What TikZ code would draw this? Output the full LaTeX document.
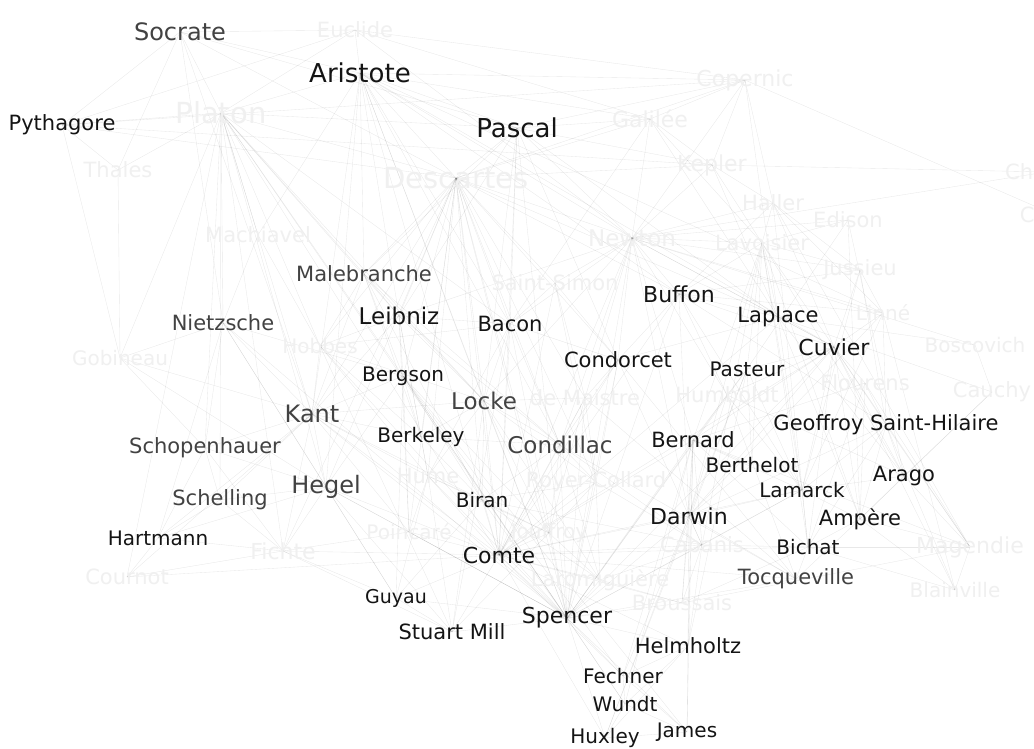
\documentclass[tikz,border=0pt]{standalone}
\usepackage{fontspec}
\setmainfont{DejaVu Sans}
\pgfdeclarelayer{bg}
\pgfsetlayers{bg,main}
\tikzset{
  lab/.style={inner sep=0pt, font=\fontsize{#1}{#1}\selectfont},
  lab/.default=22,
  fd/.style={text=black!6},
  gr/.style={text=black!74},
  dk/.style={text=black!92},
  edge/.style={draw=black, draw opacity=0.09, line width=0.35pt}
}
\begin{document}
\begin{tikzpicture}[x=1pt,y=-1pt]
\useasboundingbox (0,0) rectangle (1034,749);
% labels / nodes
\node[lab=24,gr] (soc) at (180,32) {Socrate};
\node[lab=21,fd] (euc) at (355,30) {Euclide};
\node[lab=26,dk] (ari) at (360,73) {Aristote};
\node[lab=21,dk] (pyt) at (62,125) {Pythagore};
\node[lab=29,fd] (pla) at (221,113) {Platon};
\node[lab=26,dk] (pas) at (517,128) {Pascal};
\node[lab=21,fd] (tha) at (118,170) {Thales};
\node[lab=29,fd] (des) at (456,178) {Descartes};
\node[lab=22,fd] (cop) at (745,80) {Copernic};
\node[lab=22,fd] (gal) at (650,119) {Galilée};
\node[lab=22,fd] (kep) at (712,165) {Kepler};
\node[lab=21,fd] (hal) at (773,203) {Haller};
\node[lab=21,fd] (edi) at (848,220) {Edison};
\node[lab=21,fd] (cha) at (1046,172) {Charcot};
\node[lab=21,fd] (car) at (1055,215) {Carnot};
\node[lab=21,fd] (mac) at (258,235) {Machiavel};
\node[lab=23,fd] (new) at (632,238) {Newton};
\node[lab=21,fd] (lav) at (762,243) {Lavoisier};
\node[lab=21,fd] (jus) at (860,270) {Jussieu};
\node[lab=21,gr] (mal) at (364,274) {Malebranche};
\node[lab=21,fd] (sai) at (555,283) {Saint-Simon};
\node[lab=22,dk] (buf) at (679,294) {Buffon};
\node[lab=20,fd] (lin) at (883,313) {Linné};
\node[lab=21,gr] (nie) at (223,323) {Nietzsche};
\node[lab=23,dk] (lei) at (399,316) {Leibniz};
\node[lab=21,dk] (bac) at (510,324) {Bacon};
\node[lab=21,dk] (lap) at (778,317) {Laplace};
\node[lab=20,fd] (hob) at (320,346) {Hobbes};
\node[lab=20,fd] (gob) at (120,358) {Gobineau};
\node[lab=21,dk] (cdt) at (618,360) {Condorcet};
\node[lab=22,dk] (cuv) at (834,347) {Cuvier};
\node[lab=20,dk] (pst) at (747,369) {Pasteur};
\node[lab=20,fd] (bos) at (975,345) {Boscovich};
\node[lab=20,dk] (ber) at (403,376) {Bergson};
\node[lab=21,fd] (flo) at (865,383) {Flourens};
\node[lab=21,fd] (hum) at (727,395) {Humboldt};
\node[lab=21,fd] (cau) at (992,392) {Cauchy};
\node[lab=23,gr] (loc) at (484,401) {Locke};
\node[lab=21,fd] (mai) at (585,398) {de Maistre};
\node[lab=24,gr] (kan) at (312,414) {Kant};
\node[lab=21,dk] (geo) at (886,425) {Geoffroy Saint-Hilaire};
\node[lab=21,gr] (sch) at (205,448) {Schopenhauer};
\node[lab=20,dk] (brk) at (421,437) {Berkeley};
\node[lab=23,gr] (cdl) at (560,445) {Condillac};
\node[lab=21,dk] (brn) at (693,440) {Bernard};
\node[lab=20,dk] (bth) at (752,465) {Berthelot};
\node[lab=21,fd] (hme) at (428,476) {Hume};
\node[lab=21,fd] (roy) at (596,482) {Royer-Collard};
\node[lab=21,dk] (ara) at (904,476) {Arago};
\node[lab=20,dk] (lam) at (802,490) {Lamarck};
\node[lab=21,gr] (slg) at (220,500) {Schelling};
\node[lab=24,gr] (heg) at (326,487) {Hegel};
\node[lab=20,dk] (bir) at (482,500) {Biran};
\node[lab=22,dk] (dar) at (689,516) {Darwin};
\node[lab=21,dk] (amp) at (860,519) {Ampère};
\node[lab=20,dk] (har) at (158,538) {Hartmann};
\node[lab=20,fd] (poi) at (409,532) {Poincaré};
\node[lab=20,fd] (jou) at (549,533) {Jouffroy};
\node[lab=22,fd] (fic) at (283,551) {Fichte};
\node[lab=21,fd] (cab) at (702,545) {Cabanis};
\node[lab=20,dk] (bic) at (808,547) {Bichat};
\node[lab=22,fd] (mag) at (970,547) {Magendie};
\node[lab=22,dk] (com) at (499,555) {Comte};
\node[lab=21,fd] (cou) at (127,577) {Cournot};
\node[lab=21,fd] (lar) at (600,580) {Laromiguière};
\node[lab=21,gr] (toc) at (796,579) {Tocqueville};
\node[lab=21,fd] (bro) at (682,603) {Broussais};
\node[lab=20,fd] (bla) at (955,590) {Blainville};
\node[lab=19,dk] (guy) at (396,598) {Guyau};
\node[lab=21,dk] (mil) at (452,632) {Stuart Mill};
\node[lab=22,dk] (spe) at (567,618) {Spencer};
\node[lab=21,dk] (hel) at (688,646) {Helmholtz};
\node[lab=20,dk] (fec) at (623,676) {Fechner};
\node[lab=20,dk] (wun) at (625,704) {Wundt};
\node[lab=20,dk] (hux) at (605,738) {Huxley};
\node[lab=20,dk] (jam) at (687,732) {James};
\begin{pgfonlayer}{bg}
\fill[white] (0,0) rectangle (1034,749);
\foreach \a/\b in {pla/soc,pla/pyt,pla/ari,pla/tha,pla/euc,pla/des,pla/mac,pla/nie,pla/kan,pla/heg,pla/sch,pla/slg,pla/fic,pla/lei,pla/mal,pla/hob,pla/gob,pla/pas,pla/bac,pla/com,pla/ber,pla/loc,pla/cou,pla/spe,
soc/pyt,soc/ari,soc/des,soc/kan,soc/pas,soc/euc,soc/tha,soc/nie,
ari/euc,ari/des,ari/pas,ari/gal,ari/cop,ari/lei,ari/kan,ari/heg,ari/mal,ari/bac,ari/loc,ari/cdl,ari/com,ari/spe,ari/new,ari/buf,ari/lin,ari/cuv,ari/mac,
pyt/tha,pyt/euc,pyt/kep,pyt/cop,pyt/des,pyt/gob,
pas/des,pas/gal,pas/new,pas/kep,pas/cop,pas/mal,pas/lei,pas/bac,pas/cdt,pas/lap,pas/loc,pas/com,pas/spe,
des/mal,des/lei,des/bac,des/loc,des/brk,des/kan,des/hob,des/ber,des/hme,des/bir,des/cdl,des/com,des/new,des/gal,des/kep,des/cop,des/sai,des/cdt,des/buf,des/lap,des/spe,des/mai,des/roy,des/jou,des/heg,des/fic,des/poi,
new/gal,new/kep,new/cop,new/lav,new/lap,new/buf,new/cdt,new/lei,new/loc,new/bac,new/hal,new/edi,new/jus,new/lin,new/dar,new/cuv,new/hum,new/mai,new/cdl,new/brn,new/com,new/spe,new/sai,new/cha,new/bos,
gal/kep,gal/cop,gal/bac,gal/lap,gal/lav,
kep/cop,kep/lap,kep/hal,kep/lav,kep/cha,
cop/lap,cop/hal,cop/car,
lav/lap,lav/buf,lav/cuv,lav/lam,lav/jus,lav/hal,lav/edi,lav/dar,lav/brn,lav/bth,lav/pst,lav/amp,lav/ara,lav/bic,lav/cab,
hal/jus,hal/lin,hal/buf,hal/cuv,hal/bic,hal/mag,
edi/amp,edi/ara,edi/pst,
buf/lam,buf/cuv,buf/dar,buf/lin,buf/jus,buf/lap,buf/cdt,buf/geo,buf/spe,buf/com,buf/hum,
lap/cdt,lap/cuv,lap/amp,lap/ara,lap/cau,lap/bos,lap/lam,lap/com,
lin/cuv,lin/lam,lin/dar,lin/jus,lin/geo,lin/bla,
jus/cuv,jus/lam,jus/geo,
cuv/geo,cuv/lam,cuv/dar,cuv/flo,cuv/amp,cuv/ara,cuv/bla,cuv/mag,cuv/bic,cuv/brn,cuv/hum,cuv/spe,cuv/com,
pst/brn,pst/bth,pst/dar,pst/lam,pst/cuv,pst/spe,pst/hel,pst/hux,
geo/lam,geo/dar,geo/ara,geo/amp,geo/bla,geo/mag,geo/flo,geo/bic,
flo/mag,flo/bic,flo/brn,flo/amp,
brn/bth,brn/dar,brn/lam,brn/bic,brn/mag,brn/cab,brn/bro,brn/spe,brn/com,brn/hel,brn/fec,brn/wun,brn/jam,
dar/lam,dar/spe,dar/hux,dar/hel,dar/com,dar/hum,dar/bth,dar/cab,dar/toc,dar/bro,dar/fec,
lam/spe,lam/bic,lam/cab,lam/com,lam/amp,lam/ara,lam/hum,
amp/ara,amp/mag,amp/bic,amp/bla,amp/cau,amp/toc,
bic/cab,bic/bro,bic/mag,bic/toc,bic/com,
toc/com,toc/spe,toc/hum,
mag/bla,mag/ara,mag/bro,
bos/cau,cau/ara,
kan/heg,kan/slg,kan/fic,kan/sch,kan/nie,kan/lei,kan/hme,kan/brk,kan/loc,kan/ber,kan/hob,kan/com,kan/spe,kan/bir,kan/cou,kan/mal,kan/poi,kan/har,kan/gob,
heg/fic,heg/slg,heg/sch,heg/har,heg/nie,heg/com,heg/spe,heg/ber,heg/poi,heg/guy,heg/mil,
slg/fic,slg/sch,slg/har,
sch/nie,sch/har,sch/fic,sch/gob,
fic/har,fic/cou,fic/poi,fic/com,fic/mil,fic/guy,
nie/gob,nie/har,nie/guy,nie/ber,nie/spe,
lei/mal,lei/bac,lei/loc,lei/brk,lei/hme,lei/ber,lei/cdl,lei/hob,lei/poi,
mal/loc,mal/brk,mal/hob,mal/bir,mal/ber,mal/cdl,
bac/loc,bac/hob,bac/cdl,bac/hme,bac/cdt,bac/com,bac/mil,bac/sai,bac/spe,
loc/brk,loc/hme,loc/cdl,loc/bir,loc/com,loc/spe,loc/mil,loc/roy,loc/mai,loc/jou,loc/lar,
brk/hme,brk/bir,brk/cdl,brk/ber,
cdl/bir,cdl/cdt,cdl/roy,cdl/lar,cdl/cab,cdl/jou,cdl/com,cdl/spe,cdl/mai,cdl/toc,
hme/mil,hme/com,hme/spe,hme/bir,hme/guy,hme/poi,hme/jou,
bir/roy,bir/jou,bir/lar,bir/cab,bir/com,bir/ber,bir/spe,bir/guy,
ber/spe,ber/guy,ber/poi,ber/jou,ber/fec,ber/wun,ber/jam,
com/spe,com/mil,com/sai,com/cdt,com/guy,com/roy,com/jou,com/lar,com/cab,com/bro,com/poi,com/mai,com/hel,com/fec,com/hux,
spe/mil,spe/guy,spe/hux,spe/wun,spe/fec,spe/hel,spe/jam,spe/lar,spe/bro,spe/cab,spe/jou,spe/roy,spe/poi,spe/mai,
sai/cdt,sai/mai,sai/roy,
cdt/mai,cdt/roy,cdt/toc,cdt/spe,cdt/cab,
mai/roy,mai/jou,mai/toc,
roy/jou,roy/lar,roy/cab,
jou/lar,jou/mil,
lar/cab,lar/bro,
cab/bro,cab/hel,
hel/fec,hel/wun,hel/jam,hel/hux,
fec/wun,fec/jam,wun/jam,wun/hux,hux/jam,
mil/guy,poi/spe,cou/com,cou/har,gob/heg,
hum/ara,hum/spe,bla/bic,
euc/cop,euc/gal,euc/new,
mac/hob,mac/nie,hob/loc,hob/brk,hob/hme,hob/spe,hob/mil,
tha/gob}{\draw[edge] (\a.center) -- (\b.center);}
\end{pgfonlayer}
\end{tikzpicture}
\end{document}
